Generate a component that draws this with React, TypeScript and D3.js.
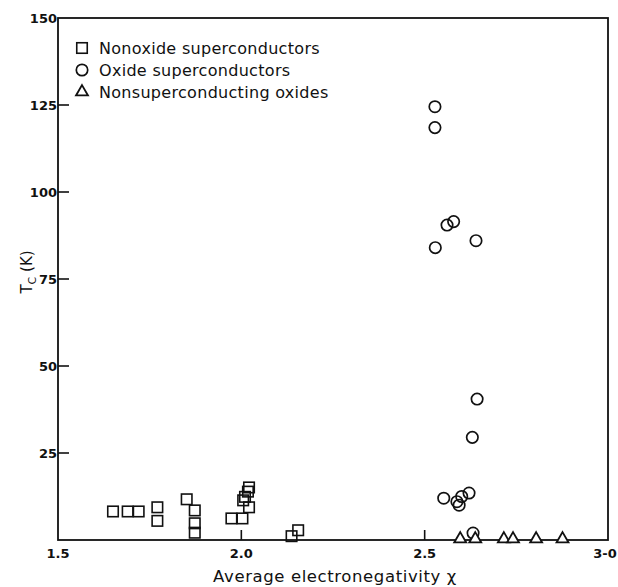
import React from "react";
import * as d3 from "d3";

const nonoxideX = [1.65, 1.69, 1.72, 1.771, 1.771, 1.851, 1.873, 1.873, 1.873, 1.973, 2.003, 2.005, 2.01, 2.021, 2.018, 2.021, 2.137, 2.155];
const nonoxideTc = [8.2, 8.2, 8.2, 9.4, 5.5, 11.7, 8.5, 4.8, 2.1, 6.2, 6.2, 11.4, 12.4, 9.4, 13.9, 15.1, 1.1, 2.8];

const oxideX = [2.528, 2.528, 2.561, 2.579, 2.529, 2.64, 2.643, 2.63, 2.552, 2.588, 2.594, 2.601, 2.621, 2.632];
const oxideTc = [124.5, 118.5, 90.5, 91.5, 84, 86, 40.5, 29.5, 12, 11, 10, 12.5, 13.5, 2];

const nonscX = [2.597, 2.638, 2.716, 2.741, 2.804, 2.876];
const nonscTc = [0, 0, 0, 0, 0, 0];

const xTicks = [1.5, 2.0, 2.5, 3.0];
const xTickLabels = ["1.5", "2.0", "2.5", "3-0"];
const yTicks = [25, 50, 75, 100, 125, 150];
const yTickLabels = ["25", "50", "75", "100", "125", "150"];

const legendLabels = ["Nonoxide superconductors", "Oxide superconductors", "Nonsuperconducting oxides"];

export default function App() {
  const W = 618, H = 587;
  const left = 58, right = 608, top = 18, bottom = 540;
  const x = d3.scaleLinear().domain([1.5, 3.0]).range([left, right]);
  const y = d3.scaleLinear().domain([0, 150]).range([bottom, top]);
  const font = "'DejaVu Sans', sans-serif";
  const sq = 10.5;
  const tri = d3.symbol().type(d3.symbolTriangle).size(62)();
  const stroke = "#111";

  const square = (cx: number, cy: number, k: string) => (
    <rect key={k} x={cx - sq / 2} y={cy - sq / 2} width={sq} height={sq} fill="none" stroke={stroke} strokeWidth={1.6} />
  );
  const circle = (cx: number, cy: number, k: string) => (
    <circle key={k} cx={cx} cy={cy} r={5.7} fill="none" stroke={stroke} strokeWidth={1.7} />
  );
  const triangle = (cx: number, cy: number, k: string) => (
    <path key={k} d={tri as string} transform={`translate(${cx},${cy - 1})`} fill="white" stroke={stroke} strokeWidth={1.8} />
  );

  const legendY = [48, 70, 92];

  return (
    <svg width={W} height={H} style={{ position: "absolute", left: 0, top: 0, background: "white" }} fontFamily={font}>
      <rect x={0} y={0} width={W} height={H} fill="white" />
      <rect x={left} y={top} width={right - left} height={bottom - top} fill="none" stroke={stroke} strokeWidth={1.8} />
      {yTicks.map((t, i) => (
        <g key={"yt" + i}>
          {t < 150 && <line x1={left} x2={left + 11} y1={y(t)} y2={y(t)} stroke={stroke} strokeWidth={1.6} />}
          <text x={left - 1} y={y(t)} dy="0.36em" textAnchor="end" fontSize={13} fontWeight="bold" fill={stroke}>
            {yTickLabels[i]}
          </text>
        </g>
      ))}
      {xTicks.map((t, i) => (
        <g key={"xt" + i}>
          {t > 1.5 && t < 3.0 && <line x1={x(t)} x2={x(t)} y1={bottom} y2={bottom - 10} stroke={stroke} strokeWidth={1.6} />}
          <text x={t === 3.0 ? x(t) - 3 : x(t)} y={bottom + 18} textAnchor="middle" fontSize={13} fontWeight="bold" fill={stroke}>
            {xTickLabels[i]}
          </text>
        </g>
      ))}
      <text x={335} y={582} textAnchor="middle" fontSize={16.5} fill={stroke} letterSpacing={0.6}>
        Average electronegativity χ
      </text>
      <text transform="translate(32,272) rotate(-90)" textAnchor="middle" fontSize={15} fill={stroke}>
        T<tspan fontSize={11} dy={4}>C</tspan><tspan dy={-4}> (K)</tspan>
      </text>
      {nonoxideX.map((v, i) => square(x(v), y(nonoxideTc[i]), "n" + i))}
      {oxideX.map((v, i) => circle(x(v), y(oxideTc[i]), "o" + i))}
      {nonscX.map((v, i) => triangle(x(v), y(nonscTc[i]), "t" + i))}
      {square(82, legendY[0], "l0")}
      {circle(82, legendY[1], "l1")}
      {triangle(82, legendY[2] + 1, "l2")}
      {legendLabels.map((l, i) => (
        <text key={"lt" + i} x={99} y={legendY[i]} dy="0.36em" fontSize={16} fill={stroke} letterSpacing={0.3}>
          {l}
        </text>
      ))}
    </svg>
  );
}
